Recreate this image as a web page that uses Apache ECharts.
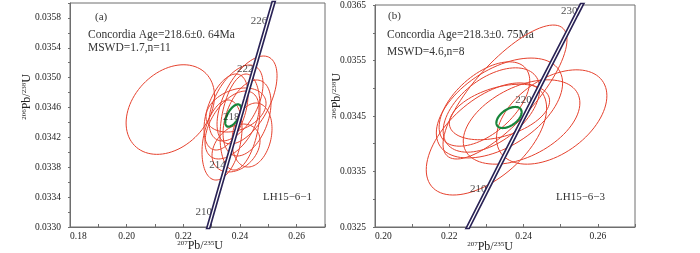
<!DOCTYPE html>
<html>
<head>
<meta charset="utf-8">
<title>Concordia diagrams</title>
<script src="https://cdn.jsdelivr.net/npm/echarts@6.0.0/dist/echarts.min.js"></script>
<style>
  html, body { margin: 0; padding: 0; background: #fff; }
  #main { width: 700px; height: 253px; }
</style>
</head>
<body>
<div id="main"></div>
<script>
// concordia curve points [207Pb/235U, 206Pb/238U, age Ma]
const concordia = [
  [0.220109, 0.031831, 202], [0.222514, 0.032152, 204], [0.224925, 0.032472, 206],
  [0.227340, 0.032792, 208], [0.229760, 0.033113, 210], [0.232184, 0.033433, 212],
  [0.234614, 0.033754, 214], [0.237048, 0.034075, 216], [0.239487, 0.034396, 218],
  [0.241931, 0.034716, 220], [0.244379, 0.035038, 222], [0.246833, 0.035359, 224],
  [0.249291, 0.035680, 226], [0.251754, 0.036001, 228], [0.254222, 0.036323, 230],
  [0.256695, 0.036644, 232], [0.259173, 0.036966, 234]
];
const agesA = [210, 214, 218, 222, 226];
const agesB = [210, 220, 230];

// error ellipses: [x, y, sx, sy, rho]
const ellipsesA = [
  [0.2154, 0.034573, 0.0156, 0.00060, 0.30],
  [0.24248, 0.034701, 0.01059, 0.000589, 0.55],
  [0.23860, 0.034661, 0.00953, 0.000509, 0.50],
  [0.23718, 0.034366, 0.00953, 0.000455, 0.50],
  [0.23365, 0.034165, 0.00706, 0.000536, 0.30],
  [0.24001, 0.034406, 0.00706, 0.000643, 0.30],
  [0.24248, 0.034460, 0.00847, 0.000509, 0.40],
  [0.23860, 0.034058, 0.00847, 0.000321, 0.30],
  [0.23507, 0.034540, 0.00777, 0.000509, 0.45],
  [0.24424, 0.034232, 0.00706, 0.000429, 0.20],
  [0.23860, 0.034567, 0.01059, 0.000295, 0.30]
];
const meanA = [[0.2376, 0.034493, 0.0028, 0.00015, 0.6]];

const ellipsesB = [
  [0.23500, 0.034932, 0.01669, 0.001207, 0.78],
  [0.24757, 0.034482, 0.01486, 0.00085, 0.45],
  [0.23000, 0.034086, 0.0162, 0.00101, 0.55],
  [0.23351, 0.034644, 0.0170, 0.00090, 0.50],
  [0.23135, 0.034608, 0.0130, 0.00076, 0.50],
  [0.23946, 0.034392, 0.0157, 0.00076, 0.45],
  [0.23351, 0.034572, 0.0135, 0.00050, 0.40],
  [0.22946, 0.034716, 0.0122, 0.00076, 0.55]
];
const meanB = [[0.23608, 0.034473, 0.0034, 0.00019, 0.5]];

const serif = "'Liberation Serif', 'Times New Roman', serif";
const frame = "#6e6e6e";
const textColor = "#333";
const red = "#e5412d";
const green = "#17853a";
const navy = "#2a2356";

// x axis, label every 0.02
function makeX(idx, min) {
  return {
    gridIndex: idx, type: "value", min: min, max: 0.27, interval: 0.01,
    axisLine: { show: true, lineStyle: { color: frame } },
    axisTick: { show: true, inside: true, length: 3, lineStyle: { color: frame } },
    splitLine: { show: false },
    axisLabel: {
      margin: 4, fontFamily: serif, fontSize: 9.5, color: "#222", alignMinLabel: "left",
      formatter: (v) => (Math.round(v * 100) % 2 === 0 && v < 0.265 ? v.toFixed(2) : "")
    }
  };
}

function makeY(idx, min, max, step) {
  return {
    gridIndex: idx, type: "value", min: min, max: max, interval: step,
    axisLine: { show: true, lineStyle: { color: frame } },
    axisTick: { show: true, length: 2, lineStyle: { color: frame } },
    splitLine: { show: false },
    axisLabel: {
      margin: 9, fontFamily: serif, fontSize: 9.5, color: "#222",
      formatter: (v) => (Math.round((v - min) / step) % 2 === 0 ? v.toFixed(4) : "")
    }
  };
}

function ellipseSeries(idx, data, color, width) {
  return {
    type: "custom", xAxisIndex: idx, yAxisIndex: idx, data: data,
    encode: { x: 0, y: 1 }, silent: true,
    renderItem: (params, api) => {
      const cx = api.value(0), cy = api.value(1);
      const sx = api.value(2), sy = api.value(3), r = api.value(4);
      const pts = [];
      for (let i = 0; i < 90; i++) {
        const t = (i / 90) * Math.PI * 2;
        pts.push(api.coord([
          cx + sx * Math.cos(t),
          cy + sy * (r * Math.cos(t) + Math.sqrt(1 - r * r) * Math.sin(t))
        ]));
      }
      return {
        type: "polygon", shape: { points: pts },
        style: { fill: "none", stroke: color, lineWidth: width }
      };
    }
  };
}

function concordiaSeries(idx) {
  return [
    { type: "line", xAxisIndex: idx, yAxisIndex: idx, data: concordia, showSymbol: false,
      lineStyle: { color: navy, width: 4.6 }, silent: true, clip: true },
    { type: "line", xAxisIndex: idx, yAxisIndex: idx, data: concordia, showSymbol: false,
      lineStyle: { color: "#fff", width: 1.3 }, silent: true, clip: true }
  ];
}

function ageLabels(idx, ages, dy) {
  return {
    type: "scatter", xAxisIndex: idx, yAxisIndex: idx, symbolSize: 0, silent: true,
    data: concordia.filter((p) => ages.includes(p[2])),
    label: {
      show: true, position: "left", distance: 0, offset: [1, dy],
      formatter: (p) => p.value[2],
      fontFamily: serif, fontSize: 11, color: "#222"
    }
  };
}

function txt(x, y, s, size) {
  return {
    type: "text", x: x, y: y, silent: true,
    style: { text: s, font: (size || 11) + "px " + serif, fill: textColor, textVerticalAlign: "middle" }
  };
}

function axisName(x, y, a, b, rotate) {
  return {
    type: "text", x: x, y: y, rotation: rotate ? Math.PI / 2 : 0, silent: true,
    style: {
      text: "{s|" + a + "}{m|Pb/}{s|" + b + "}{m|U}",
      align: "center", verticalAlign: "middle",
      rich: {
        s: { fontSize: 7, fontFamily: serif, fill: "#222", verticalAlign: "top" },
        m: { fontSize: 12, fontFamily: serif, fill: "#222" }
      }
    }
  };
}

const chart = echarts.init(document.getElementById("main"));
chart.setOption({
  animation: false,
  grid: [
    { left: 70, top: 3, width: 255, height: 224, show: true, borderColor: frame, borderWidth: 1 },
    { left: 375, top: 5, width: 260, height: 222, show: true, borderColor: frame, borderWidth: 1 }
  ],
  xAxis: [makeX(0, 0.18), makeX(1, 0.2)],
  yAxis: [makeY(0, 0.033, 0.036, 0.0002), makeY(1, 0.0325, 0.0365, 0.0005)],
  series: [
    ellipseSeries(0, ellipsesA, red, 1),
    ...concordiaSeries(0),
    ellipseSeries(0, meanA, green, 2.2),
    ageLabels(0, agesA, -6),
    ellipseSeries(1, ellipsesB, red, 1),
    ...concordiaSeries(1),
    ellipseSeries(1, meanB, green, 2.2),
    ageLabels(1, agesB, -4)
  ],
  graphic: [
    txt(95, 17, "(a)"),
    txt(88, 35, "Concordia Age=218.6±0. 64Ma", 11.5),
    txt(88, 48, "MSWD=1.7,n=11", 11.5),
    txt(263, 197, "LH15−6−1"),
    txt(388, 16, "(b)"),
    txt(387, 35, "Concordia Age=218.3±0. 75Ma", 11.5),
    txt(387, 52, "MSWD=4.6,n=8", 11.5),
    txt(556, 197, "LH15−6−3"),
    axisName(27, 97, "206", "238", true),
    axisName(200, 246, "207", "235", false),
    axisName(337, 96, "206", "238", true),
    axisName(490, 247, "207", "235", false)
  ]
});
</script>
</body>
</html>
